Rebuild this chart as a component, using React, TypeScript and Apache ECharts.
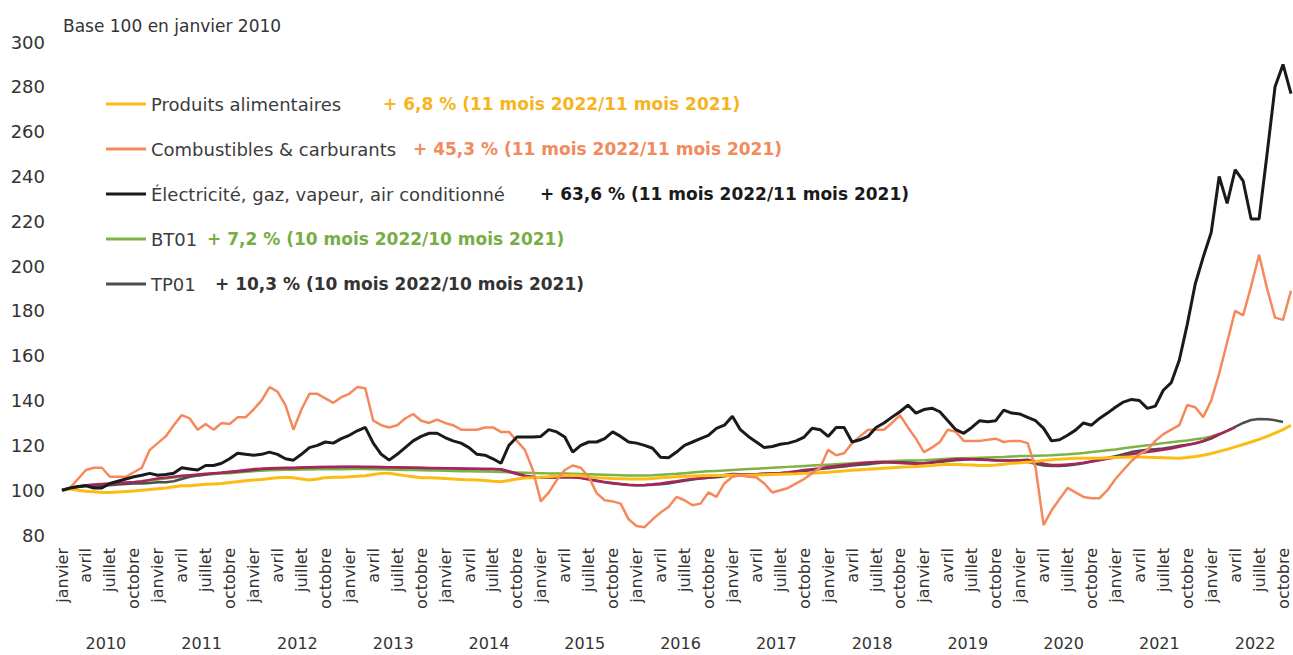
import React, { useEffect, useRef } from "react";
import * as echarts from "echarts";

const MONTHS = ["janvier", "février", "mars", "avril", "mai", "juin", "juillet", "août", "septembre", "octobre", "novembre", "décembre"];
const YEARS = [2010, 2011, 2012, 2013, 2014, 2015, 2016, 2017, 2018, 2019, 2020, 2021, 2022];
const Y_TICKS = { min: 80, max: 300, interval: 20 };

const NAMES = [
  "Produits alimentaires",
  "Combustibles & carburants",
  "Électricité, gaz, vapeur, air conditionné",
  "BT01",
  "TP01",
];
const EXTRA_NAME = "TP01 (série longue)";
const CHANGES = [
  "+ 6,8 % (11 mois 2022/11 mois 2021)",
  "+ 45,3 % (11 mois 2022/11 mois 2021)",
  "+ 63,6 % (11 mois 2022/11 mois 2021)",
  "+ 7,2 % (10 mois 2022/10 mois 2021)",
  "+ 10,3 % (10 mois 2022/10 mois 2021)",
];

// Jan 2010 .. Nov 2022 (one row per year)
const alimentaires = [
  100, 100.5, 100, 99.5, 99.3, 99, 99, 99.2, 99.4, 99.6, 100, 100.3,
  100.6, 101, 101.5, 102, 102, 102.3, 102.6, 102.8, 103, 103.4, 103.8, 104.2,
  104.5, 104.8, 105.2, 105.5, 105.8, 105.5, 105, 104.5, 105, 105.6, 105.8, 105.8,
  106, 106.2, 106.4, 107, 107.5, 107.6, 107, 106.5, 106, 105.5, 105.5, 105.4,
  105.2, 105, 104.8, 104.6, 104.5, 104.3, 104, 103.8, 104.3, 105, 105.4, 105.6,
  105.8, 106, 106.3, 106.6, 106.7, 106.4, 106, 105.6, 105.4, 105.2, 105.1, 105,
  105, 105, 105.2, 105.5, 105.8, 106, 106.2, 106.3, 106.4, 106.5, 106.6, 106.6,
  106.7, 106.7, 106.7, 106.8, 106.9, 107, 107.1, 107.2, 107.3, 107.5, 107.6, 107.8,
  108, 108.3, 108.6, 108.9, 109.1, 109.3, 109.6, 109.8, 110, 110.2, 110.4, 110.6,
  110.8, 111, 111.3, 111.6, 111.5, 111.3, 111.2, 111, 111, 111.2, 111.6, 112,
  112.2, 112.5, 112.8, 113.2, 113.6, 113.8, 114, 114.2, 114.3, 114.3, 114.3, 114.5,
  114.6, 114.7, 114.8, 114.8, 114.7, 114.6, 114.5, 114.4, 114.3, 114.6, 115, 115.6,
  116.4, 117.3, 118.2, 119.3, 120.4, 121.5, 122.7, 124, 125.5, 127, 129,
];

const combustibles = [
  100, 101, 105, 109, 110, 110, 106, 106, 106, 108, 110, 118,
  121, 124, 129, 133.5, 132, 127, 129.5, 127, 130, 129.5, 132.5, 132.5,
  136, 140, 146, 144, 138, 127, 136, 143, 143, 141, 139, 141.5,
  143, 146, 145.5, 131, 129, 128, 129, 132, 134, 131, 130, 131.5,
  130, 129, 127, 127, 127, 128, 128, 126, 126, 122, 118, 109,
  95, 99, 104.5, 109, 111, 110, 106, 98.7, 95.5, 95, 94, 87,
  84, 83.5, 87, 90, 92.5, 97, 95.5, 93.3, 94, 99, 97, 103,
  106, 106.7, 106, 105.8, 103, 99, 100, 101, 103, 105, 107.6, 110,
  118, 115.6, 116.5, 121, 124, 127, 127, 127, 130, 133.5, 128, 123,
  117, 119, 121.5, 127, 126, 122, 122, 122, 122.5, 123, 121.5, 122,
  122, 121, 110, 84.4, 91, 96, 101, 99, 97, 96.4, 96.4, 100,
  105, 109, 113, 116, 118, 122, 125, 127, 129, 138, 137, 132.6,
  140, 152, 166, 180, 178, 191, 205, 190, 177, 176, 189,
];

const electricite = [
  100, 101, 101.5, 102, 101, 101, 103, 104, 105, 106, 106.7, 107.5,
  106.7, 107, 107.6, 110, 109.5, 109, 111, 111, 112, 114, 116.5, 116,
  115.6, 116, 117, 116, 114, 113.4, 116, 119, 120, 121.5, 121, 123,
  124.5, 126.5, 128, 121, 116, 113.4, 116, 119, 122, 124, 125.4, 125.4,
  123.5, 122, 121, 119, 116, 115.6, 114, 112, 120, 123.7, 123.7, 123.7,
  124, 127, 126, 123.7, 117, 120, 121.5, 121.5, 123, 126, 124, 121.5,
  121, 120, 118.7, 114.7, 114.5, 117, 120, 121.5, 123, 124.5, 127.6, 129,
  133, 127, 124, 121.5, 119, 119.5, 120.5, 121, 122, 123.7, 127.6, 127,
  124, 128, 128, 121.5, 122.5, 124, 128, 130, 132.6, 135, 138, 134.4,
  136, 136.6, 135, 131, 127, 125.4, 128, 131, 130.5, 131, 135.7, 134.4,
  134, 132.5, 131, 127.6, 122, 122.5, 124.5, 126.8, 130, 129, 132, 134.4,
  137, 139.3, 140.5, 140, 136.5, 137.5, 144.6, 148, 158, 174, 192, 204,
  215, 240, 228, 243, 238, 221, 221, 250, 280, 290, 277,
];

const bt01 = [
  100, 100.8, 101.5, 102, 102.3, 102.6, 102.8, 103, 103.2, 103.4, 103.8, 104.3,
  104.8, 105.2, 105.6, 106, 106.3, 106.6, 106.9, 107.2, 107.4, 107.6, 107.9, 108.2,
  108.5, 108.7, 108.9, 109, 109.1, 109.1, 109.2, 109.2, 109.3, 109.3, 109.3, 109.3,
  109.4, 109.4, 109.4, 109.3, 109.3, 109.2, 109.1, 109, 109, 108.9, 108.8, 108.8,
  108.7, 108.6, 108.5, 108.4, 108.3, 108.3, 108.2, 108.1, 108, 107.9, 107.8, 107.7,
  107.6, 107.5, 107.5, 107.4, 107.3, 107.2, 107.1, 107, 106.9, 106.8, 106.7, 106.6,
  106.6, 106.6, 106.7, 106.9, 107.1, 107.3, 107.6, 107.9, 108.2, 108.4, 108.6, 108.8,
  109, 109.2, 109.4, 109.6, 109.8, 110, 110.2, 110.4, 110.6, 110.8, 111, 111.2,
  111.4, 111.6, 111.8, 112, 112.2, 112.4, 112.6, 112.8, 113, 113.1, 113.2, 113.3,
  113.4, 113.6, 113.8, 114, 114.2, 114.3, 114.4, 114.5, 114.6, 114.7, 114.8, 115,
  115.2, 115.3, 115.4, 115.5, 115.6, 115.8, 116, 116.3, 116.6, 117, 117.4, 117.8,
  118.2, 118.7, 119.2, 119.6, 120, 120.5, 121, 121.4, 121.8, 122.2, 122.7, 123.2,
  124, 125.2, null, null, null, null, null, null, null, null, null,
];

const tp01 = [
  100, 100.8, 101.5, 102, 102, 102, 102.2, 102.5, 102.8, 103, 103, 103.2,
  103.5, 103.5, 104, 105, 106, 106.5, 107, 107.5, 107.8, 108, 108.3, 108.6,
  109, 109.4, 109.6, 109.8, 109.8, 109.8, 110, 110.1, 110.2, 110.3, 110.3, 110.3,
  110.4, 110.4, 110.3, 110.3, 110.2, 110.2, 110.1, 110, 110, 109.9, 109.8, 109.8,
  109.8, 109.7, 109.6, 109.6, 109.5, 109.4, 109.4, 109.3, 108.5, 107.5, 106.5, 106,
  105.6, 105.6, 105.8, 105.9, 105.8, 105.5, 105, 104.3, 103.6, 103.2, 102.8, 102.4,
  102.2, 102.2, 102.4, 102.7, 103, 103.6, 104.2, 104.8, 105.2, 105.5, 105.8, 106.2,
  106.8, 107, 107, 107.1, 107.3, 107.5, 107.6, 107.8, 108.2, 108.6, 109, 109.4,
  109.8, 110.2, 110.6, 111, 111.3, 111.6, 112, 112.3, 112.5, 112.5, 112.3, 112.1,
  112, 112.2, 112.6, 113, 113.4, 113.6, 113.8, 113.8, 113.6, 113.4, 113.3, 113.2,
  113, 112.6, 111.8, 111, 110.8, 110.8, 111, 111.5, 112, 112.8, 113.6, 114.4,
  115.2, 116, 117, 117.6, 118, 118.3, 118.6, 119.2, 119.8, 120.3, 120.8, 121.8,
  123, 124.8, 126.5, 128.3, 130, 131.3, 131.8, 131.7, 131.2, 130.4, null,
];

const tp01Long = [
  100, 101, 101.8, 102.2, 102.5, 102.8, 103, 103.2, 103.4, 103.6, 104, 104.6,
  105.2, 105.6, 106, 106.4, 106.7, 107, 107.3, 107.6, 107.8, 108.2, 108.6, 109,
  109.4, 109.6, 109.8, 109.9, 110, 110, 110.1, 110.2, 110.3, 110.4, 110.4, 110.5,
  110.5, 110.5, 110.4, 110.4, 110.3, 110.2, 110.2, 110.1, 110, 110, 109.9, 109.9,
  109.8, 109.8, 109.7, 109.6, 109.6, 109.5, 109.4, 109.2, 108.2, 107.2, 106.3, 105.8,
  105.5, 105.6, 105.8, 105.9, 105.8, 105.4, 104.8, 104.1, 103.5, 103, 102.6, 102.3,
  102.2, 102.3, 102.6, 103, 103.5, 104, 104.6, 105, 105.3, 105.6, 106.2, 106.8,
  107.2, 107.1, 107, 107.1, 107.3, 107.5, 107.7, 108, 108.5, 109, 109.4, 109.8,
  110.3, 110.8, 111.2, 111.6, 112, 112.3, 112.6, 112.6, 112.4, 112.1, 111.9, 111.8,
  112, 112.5, 113, 113.5, 113.8, 113.9, 113.8, 113.6, 113.5, 113.3, 113.2, 113.2,
  113.4, 113.6, 112.8, 111.8, 111.2, 111.2, 111.5, 111.8, 112.2, 112.8, 113.4, 114,
  114.6, 115.3, 116, 116.6, 117, 117.5, 118, 118.6, 119.4, 120.2, 121, 122,
  123.4, 125, 126.5, 128, null, null, null, null, null, null, null,
];

const COLORS = ["#fbbc14", "#f5895c", "#1a1a1a", "#7cb342", "#4d4d4d"];
const EXTRA_COLOR = "#a8245f";
const CHANGE_COLORS = ["#f6b41e", "#f28a5b", "#1a1a1a", "#78ad45", "#333333"];
const NAME_WIDTHS = [232, 262, 389, 56, 64];

const FONT = "DejaVu Sans";

const categories: string[] = [];
for (const y of YEARS) {
  for (const m of MONTHS) {
    if (categories.length < alimentaires.length) categories.push(`${m} ${y}`);
  }
}

export default function App() {
  const ref = useRef<HTMLDivElement>(null);

  useEffect(() => {
    if (!ref.current) return;
    const chart = echarts.init(ref.current, undefined, { renderer: "svg" });

    const rich: Record<string, any> = {};
    NAMES.forEach((_, i) => {
      rich["n" + i] = { fontFamily: FONT, fontSize: 18, color: "#3c3c3c", width: NAME_WIDTHS[i] };
      rich["p" + i] = { fontFamily: FONT, fontSize: 17, fontWeight: "bold", color: CHANGE_COLORS[i] };
    });

    const line = (name: string, data: (number | null)[], color: string, width: number, z: number) => ({
      name,
      type: "line",
      data,
      symbol: "none",
      showSymbol: false,
      xAxisIndex: 0,
      yAxisIndex: 0,
      z,
      color,
      lineStyle: { color, width },
      emphasis: { disabled: true },
    });

    chart.setOption({
      animation: false,
      backgroundColor: "#ffffff",
      title: {
        text: "Base 100 en janvier 2010",
        left: 58,
        top: 12,
        textStyle: { fontFamily: FONT, fontSize: 17, fontWeight: "normal", color: "#333333" },
      },
      legend: {
        data: NAMES,
        orient: "vertical",
        left: 101,
        top: 88,
        itemWidth: 40,
        itemHeight: 3,
        itemGap: 23,
        icon: "rect",
        selectedMode: false,
        textStyle: { fontFamily: FONT, fontSize: 18, color: "#3c3c3c", lineHeight: 22, rich },
        formatter: (name: string) => {
          const i = NAMES.indexOf(name);
          return `{n${i}|${name}}{p${i}|${CHANGES[i]}}`;
        },
      },
      grid: { left: 62, right: 2, top: 42, bottom: 120, containLabel: false },
      xAxis: [
        {
          type: "category",
          data: categories,
          boundaryGap: false,
          axisLine: { show: false },
          axisTick: { show: false },
          splitLine: { show: false },
          axisLabel: {
            interval: 2,
            rotate: 90,
            margin: 13,
            fontFamily: FONT,
            fontSize: 16,
            color: "#333333",
            formatter: (v: string) => v.split(" ")[0],
          },
        },
        {
          type: "category",
          data: categories,
          position: "bottom",
          boundaryGap: false,
          axisLine: { show: false },
          axisTick: { show: false },
          splitLine: { show: false },
          axisLabel: {
            interval: (i: number) => i % 12 === 5,
            margin: 100,
            fontFamily: FONT,
            fontSize: 16,
            color: "#333333",
            formatter: (v: string) => `{y|${v.split(" ")[1]}}`,
            rich: { y: { fontFamily: FONT, fontSize: 16, color: "#333333", padding: [0, 0, 0, 8] } },
          },
        },
      ],
      yAxis: {
        type: "value",
        min: Y_TICKS.min,
        max: Y_TICKS.max,
        interval: Y_TICKS.interval,
        axisLine: { show: false },
        axisTick: { show: false },
        splitLine: { show: false },
        axisLabel: { margin: 17, fontFamily: FONT, fontSize: 18, color: "#333333" },
      },
      series: [
        line(NAMES[3], bt01, COLORS[3], 2.5, 2),
        line(NAMES[4], tp01, COLORS[4], 2.5, 3),
        line(EXTRA_NAME, tp01Long, EXTRA_COLOR, 2.5, 4),
        line(NAMES[0], alimentaires, COLORS[0], 3, 5),
        line(NAMES[1], combustibles, COLORS[1], 2.5, 6),
        line(NAMES[2], electricite, COLORS[2], 3, 7),
      ],
    });

    return () => chart.dispose();
  }, []);

  return (
    <div
      ref={ref}
      style={{ position: "fixed", left: 0, top: 0, width: 1293, height: 655, background: "#fff" }}
    />
  );
}
